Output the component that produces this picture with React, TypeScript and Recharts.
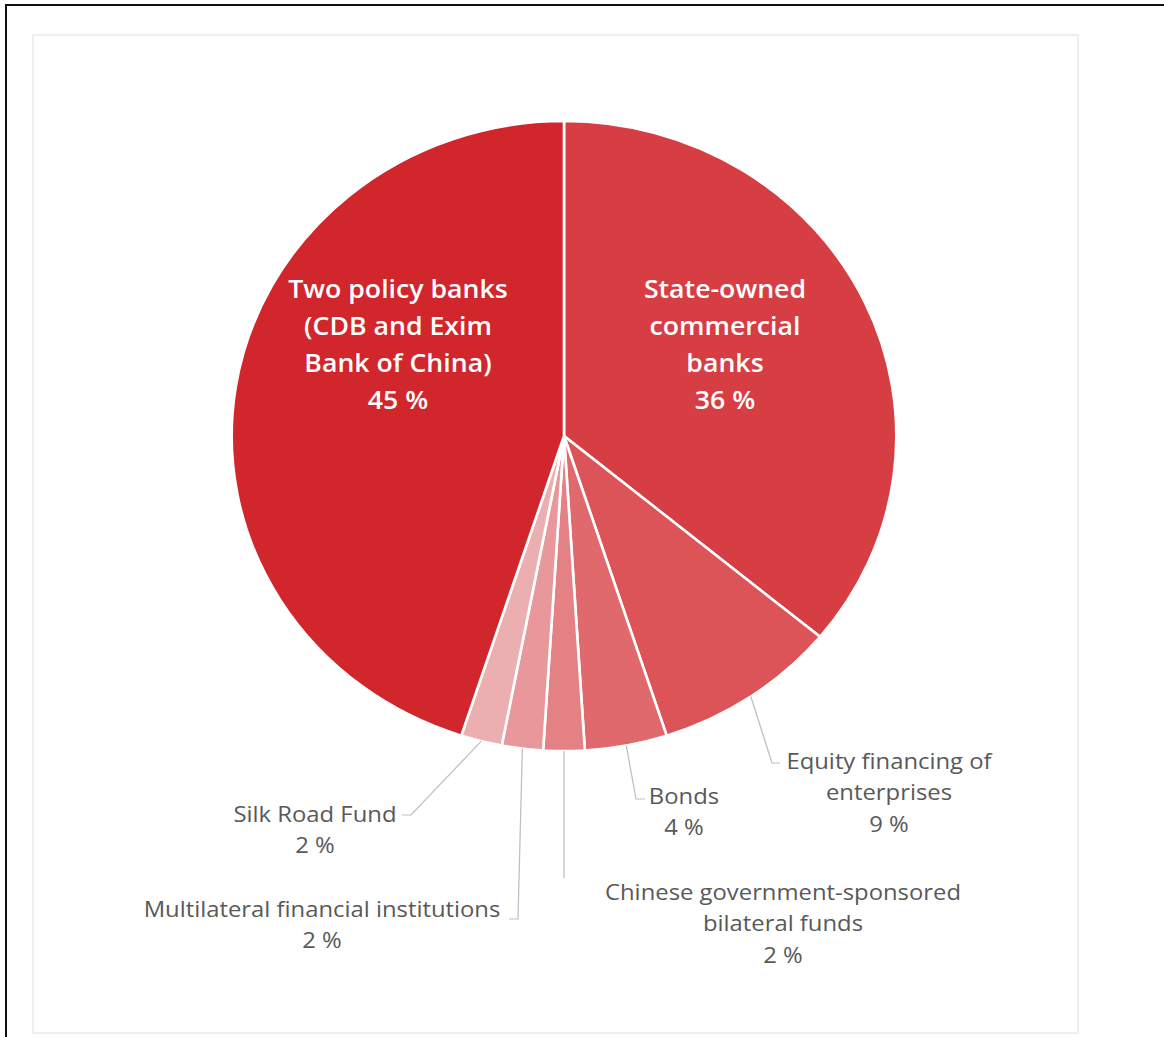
import React from 'react';
import { PieChart, Pie, Cell } from 'recharts';

// slices, clockwise from 12 o'clock
const categories = [
  'State-owned commercial banks',
  'Equity financing of enterprises',
  'Bonds',
  'Chinese government-sponsored bilateral funds',
  'Multilateral financial institutions',
  'Silk Road Fund',
  'Two policy banks (CDB and Exim Bank of China)',
];
const shares = [36, 9, 4, 2, 2, 2, 45];
const labelLines = [
  ['State-owned', 'commercial', 'banks'],
  ['Equity financing of', 'enterprises'],
  ['Bonds'],
  ['Chinese government-sponsored', 'bilateral funds'],
  ['Multilateral financial institutions'],
  ['Silk Road Fund'],
  ['Two policy banks', '(CDB and Exim', 'Bank of China)'],
];
const colors = ['#d63e43', '#dc5458', '#e0696d', '#e48185', '#e8989b', '#ecafb1', '#d2262d'];

const rows = categories.map((name, i) => ({ name, value: shares[i] }));

// picture is slightly wider than tall, so the pie is stretched horizontally
const CX = 564;
const CY = 436;
const R = 315;
const K = 1.055;
const unX = (x: number) => CX + (x - CX) / K;
const FONT = "'Open Sans', 'Noto Sans', sans-serif";

type Lay = { inside?: boolean; x: number; y: number; pts?: [number, number][] };
const layout: Lay[] = [
  { inside: true, x: 725, y: 298 },
  { x: 889, y: 769, pts: [[772, 763], [780, 763]] },
  { x: 684, y: 804, pts: [[636, 799], [645, 799]] },
  { x: 783, y: 900, pts: [[564, 878]] },
  { x: 322, y: 917, pts: [[518, 919], [509, 919]] },
  { x: 315, y: 822, pts: [[411, 815], [402, 815]] },
  { inside: true, x: 398, y: 298 },
];

const RAD = Math.PI / 180;

function renderLabel(props: any) {
  const { cx, cy, midAngle, outerRadius, index, value } = props;
  const lay = layout[index];
  const lines = [...labelLines[index], `${value} %`];
  const tx = unX(lay.x);
  if (lay.inside) {
    return (
      <text x={tx} y={lay.y} textAnchor="middle" fill="#fff" fontSize={25.3} fontWeight={600}
            fontFamily={FONT}>
        {lines.map((l, i) => (
          <tspan key={i} x={tx} dy={i === 0 ? 0 : 37}>{l}</tspan>
        ))}
      </text>
    );
  }
  const sx = cx + outerRadius * Math.cos(-midAngle * RAD);
  const sy = cy + outerRadius * Math.sin(-midAngle * RAD);
  const pts = [[sx, sy], ...(lay.pts ?? []).map(([x, y]) => [unX(x), y])];
  return (
    <g>
      <polyline points={pts.map(p => p.join(',')).join(' ')} fill="none" stroke="#bfbfbf" strokeWidth={1.2} />
      <text x={tx} y={lay.y} textAnchor="middle" fill="#595959" fontSize={22.6}
            fontFamily={FONT}>
        {lines.map((l, i) => (
          <tspan key={i} x={tx} dy={i === 0 ? 0 : 31.5}>{l}</tspan>
        ))}
      </text>
    </g>
  );
}

export default function App() {
  return (
    <div style={{ position: 'absolute', left: 0, top: 0, width: 1164, height: 1037, background: '#fff', overflow: 'hidden' }}>
      <div style={{ position: 'absolute', left: 5, top: 4, width: 1200, height: 1100, border: '2px solid #111' }} />
      <div style={{ position: 'absolute', left: 32, top: 34, width: 1043, height: 996, border: '2px solid #efefef' }} />
      <div style={{ position: 'absolute', left: 0, top: 0, transform: `scaleX(${K})`, transformOrigin: `${CX}px ${CY}px` }}>
        <PieChart width={1164} height={1037} margin={{ top: 0, right: 0, bottom: 0, left: 0 }}>
          <Pie data={rows} dataKey="value" nameKey="name" cx={CX} cy={CY} outerRadius={R}
               startAngle={90} endAngle={-270} stroke="#fff" strokeWidth={2.5}
               label={renderLabel} labelLine={false} isAnimationActive={false}>
            {rows.map((r, i) => <Cell key={r.name} fill={colors[i]} />)}
          </Pie>
        </PieChart>
      </div>
    </div>
  );
}
